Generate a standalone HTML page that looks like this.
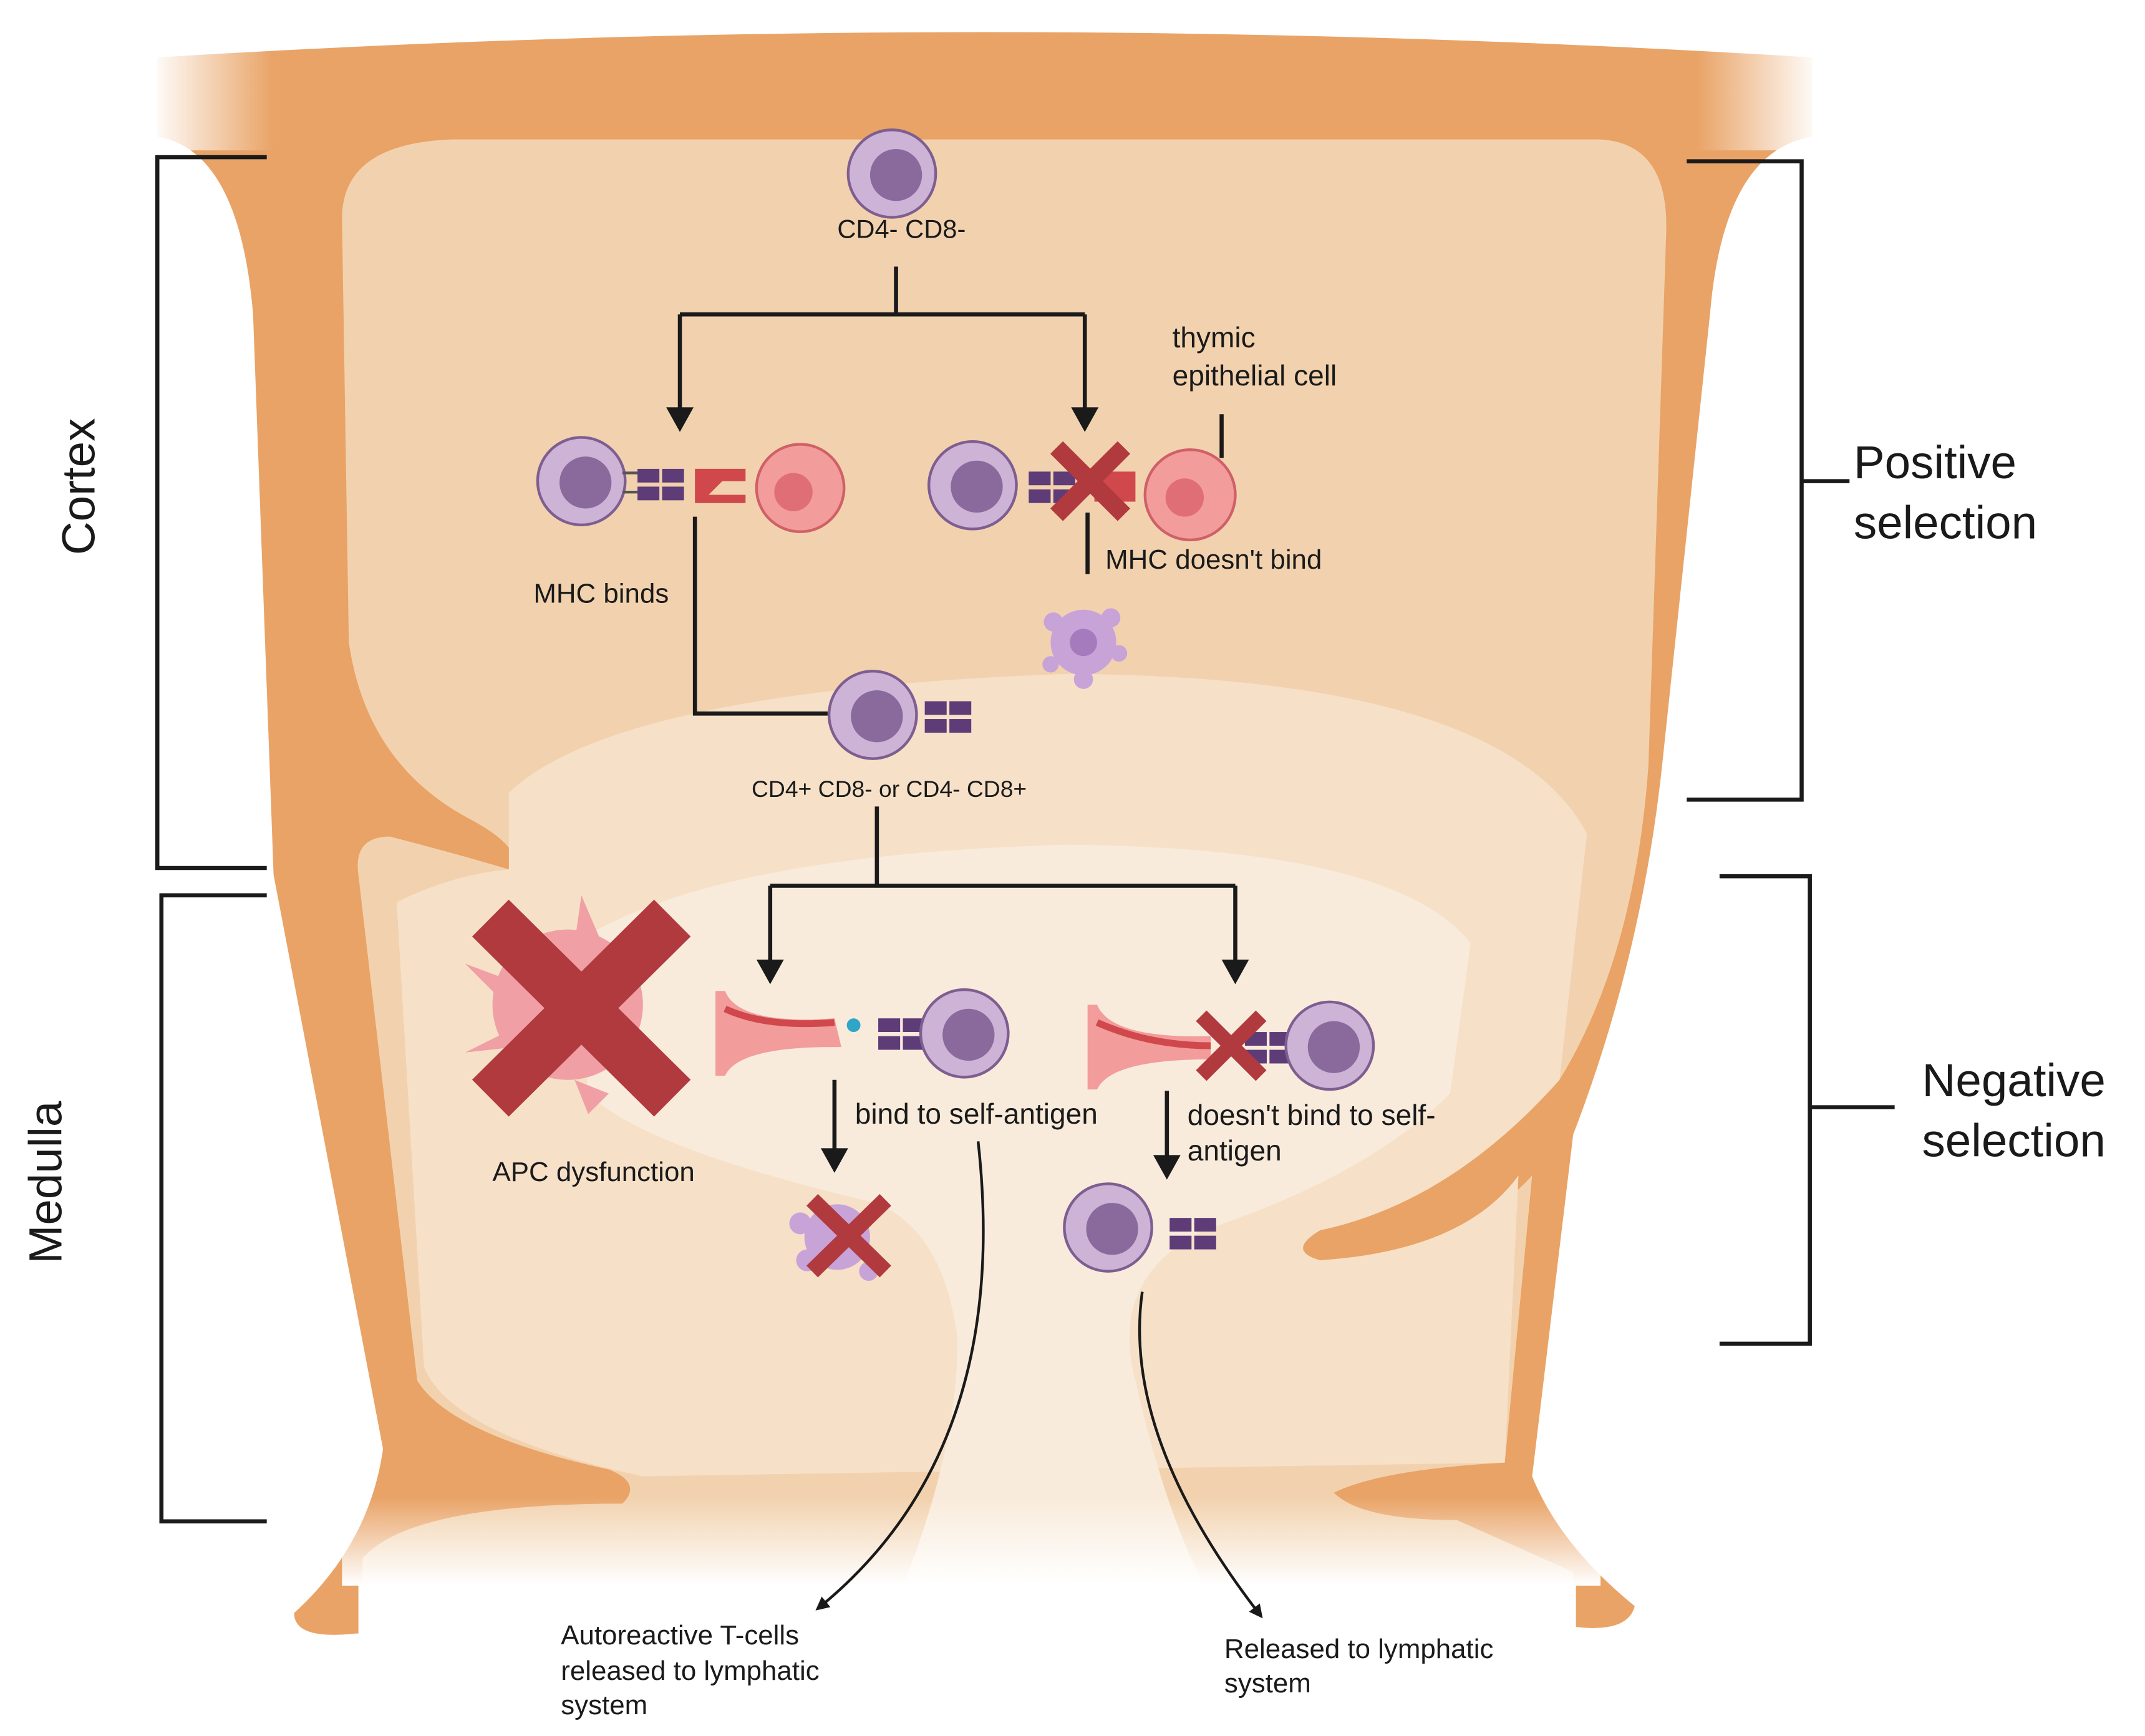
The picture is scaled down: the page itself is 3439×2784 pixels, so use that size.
<!DOCTYPE html>
<html><head><meta charset="utf-8"><style>
html,body{margin:0;padding:0;background:#fff;}
svg{display:block;}
text{font-family:"Liberation Sans",Arial,sans-serif;fill:#1a1a1a;}
</style></head><body>
<svg width="3439" height="2784" viewBox="0 0 1568 1270" preserveAspectRatio="none" xmlns="http://www.w3.org/2000/svg">
<defs>
<linearGradient id="topfadeL" x1="0" x2="1" y1="0" y2="0"><stop offset="0" stop-color="#fff"/><stop offset="1" stop-color="#fff" stop-opacity="0"/></linearGradient>
<linearGradient id="topfadeR" x1="1" x2="0" y1="0" y2="0"><stop offset="0" stop-color="#fff"/><stop offset="1" stop-color="#fff" stop-opacity="0"/></linearGradient>
<linearGradient id="botfade" x1="0" x2="0" y1="0" y2="1"><stop offset="0" stop-color="#fff" stop-opacity="0"/><stop offset="1" stop-color="#fff"/></linearGradient>
<marker id="ah" markerWidth="10" markerHeight="10" refX="5" refY="5" orient="auto" markerUnits="userSpaceOnUse"><path d="M0,0 L10,5 L0,10 Z" fill="#1a1a1a"/></marker>
<g id="tcell"><circle r="32" fill="#CDB3D5" stroke="#7E5E90" stroke-width="2"/><circle cx="3" cy="1" r="19" fill="#8A6A9C"/></g>
<g id="rec"><rect x="0" y="-12" width="16" height="10" fill="#5E3C78"/><rect x="18" y="-12" width="16" height="10" fill="#5E3C78"/><rect x="0" y="1" width="16" height="10" fill="#5E3C78"/><rect x="18" y="1" width="16" height="10" fill="#5E3C78"/></g>
</defs>
<!-- orange base -->
<path d="M115,42 Q720,5 1325,42 L1325,100 Q1260,110 1250,230 L1215,560 Q1200,700 1150,830 L1120,1080 Q1140,1130 1195,1175 Q1190,1195 1150,1190 L260,1195 Q215,1200 215,1180 Q270,1130 280,1060 L200,640 L185,230 Q175,110 115,100 Z" fill="#E9A366"/>
<rect x="110" y="30" width="90" height="80" fill="url(#topfadeL)"/>
<rect x="1240" y="30" width="90" height="80" fill="url(#topfadeR)"/>
<!-- cortex -->
<path d="M250,160 Q250,105 330,102 L1170,102 Q1220,105 1218,170 L1205,560 Q1195,700 1140,790 Q1060,880 965,900 Q940,915 965,922 Q1070,915 1120,860 L1100,1070 Q1010,1075 975,1092 Q995,1112 1065,1112 L1150,1150 L1150,1200 L265,1200 L265,1140 Q300,1100 455,1100 Q470,1085 445,1075 Q330,1050 305,1010 L262,640 Q258,612 285,612 Q335,625 372,636 Q385,622 345,600 Q268,560 255,470 Z" fill="#F2D2AE"/>
<!-- medulla -->
<path d="M372,580 Q450,505 780,493 Q1100,495 1160,610 L1140,790 Q1060,880 965,900 Q940,915 965,922 Q1070,915 1110,860 L1100,1070 L470,1080 Q330,1050 310,1000 L290,660 Q330,640 372,636 Z" fill="#F6E1C8"/>
<path d="M420,690 Q520,625 780,618 Q1020,620 1075,690 L1060,800 Q1000,860 880,900 Q810,935 830,1010 Q850,1100 880,1160 L660,1160 Q700,1060 700,980 Q690,900 640,880 Q470,840 430,800 Z" fill="#F9EBDB"/>
<rect x="250" y="1095" width="920" height="65" fill="url(#botfade)"/>
<rect x="262" y="1159" width="890" height="120" fill="#fff"/>
<!-- brackets -->
<g stroke="#1a1a1a" stroke-width="3" fill="none">
<path d="M195,115 H115 V635 H195"/>
<path d="M195,655 H118 V1113 H195"/>
<path d="M1233,118 H1317 V585 H1233 M1317,352 H1352"/>
<path d="M1257,641 H1323 V983 H1257 M1323,810 H1385"/>
</g>
<text x="0" y="0" font-size="34" transform="translate(69,356) rotate(-90)" text-anchor="middle">Cortex</text>
<text x="0" y="0" font-size="34" transform="translate(45,865) rotate(-90)" text-anchor="middle">Medulla</text>
<text x="1355" y="350" font-size="34">Positive</text>
<text x="1355" y="394" font-size="34">selection</text>
<text x="1405" y="802" font-size="34">Negative</text>
<text x="1405" y="846" font-size="34">selection</text>
<!-- flow lines -->
<g stroke="#1a1a1a" stroke-width="3" fill="none">
<path d="M655,195 V230 M497,230 H793 M497,230 V305 M793,230 V305" />
<path d="M893,303 V335 M795,375 V420"/>
<path d="M508,378 V522 H605"/>
<path d="M641,590 V648 M563,648 H903 M563,648 V708 M903,648 V708"/>
<path d="M610,790 V845 M853,798 V850"/>
</g>
<g fill="#1a1a1a">
<path d="M487,298 L507,298 L497,316 Z"/><path d="M783,298 L803,298 L793,316 Z"/>
<path d="M553,702 L573,702 L563,720 Z"/><path d="M893,702 L913,702 L903,720 Z"/>
<path d="M600,840 L620,840 L610,858 Z"/><path d="M843,845 L863,845 L853,863 Z"/>
</g>
<path d="M715,835 Q740,1060 600,1175" stroke="#1a1a1a" stroke-width="2" fill="none" marker-end="url(#ah)"/>
<path d="M835,945 Q820,1050 920,1180" stroke="#1a1a1a" stroke-width="2" fill="none" marker-end="url(#ah)"/>
<!-- top cell -->
<use href="#tcell" x="652" y="127"/>
<text x="659" y="174" font-size="19" text-anchor="middle">CD4- CD8-</text>
<!-- row 2 left -->
<use href="#tcell" x="425" y="352"/>
<line x1="455" y1="346" x2="466" y2="346" stroke="#555" stroke-width="2"/><line x1="455" y1="360" x2="466" y2="360" stroke="#555" stroke-width="2"/>
<use href="#rec" x="466" y="355"/>
<path d="M508,343 L545,343 L545,352 L528,352 L518,362 L545,362 L545,368 L508,368 Z" fill="#D0484C"/>
<circle cx="585" cy="357" r="32" fill="#F29C9C" stroke="#D06068" stroke-width="2"/><circle cx="580" cy="360" r="14" fill="#E06E76"/>
<text x="390" y="441" font-size="20">MHC binds</text>
<!-- row 2 right -->
<use href="#tcell" x="711" y="355"/>
<use href="#rec" x="752" y="357"/>
<rect x="800" y="345" width="30" height="22" fill="#D0484C"/>
<circle cx="870" cy="362" r="33" fill="#F29C9C" stroke="#D06068" stroke-width="2"/><circle cx="866" cy="364" r="14" fill="#E06E76"/>
<path d="M777,332 L817,372 M817,332 L777,372" stroke="#B03A3E" stroke-width="13" stroke-linecap="square"/>
<text x="857" y="254" font-size="21">thymic</text>
<text x="857" y="282" font-size="21">epithelial cell</text>
<text x="808" y="416" font-size="20">MHC doesn't bind</text>
<!-- dying cell -->
<g fill="#C8A3D8"><circle cx="792" cy="470" r="24"/><circle cx="770" cy="455" r="7"/><circle cx="812" cy="452" r="7"/><circle cx="818" cy="478" r="6"/><circle cx="768" cy="486" r="6"/><circle cx="792" cy="497" r="7"/></g><circle cx="792" cy="470" r="10" fill="#A57BBE"/>
<!-- CD4+ cell -->
<use href="#tcell" x="638" y="523"/>
<use href="#rec" x="676" y="525"/>
<text x="650" y="583" font-size="17" text-anchor="middle">CD4+ CD8- or CD4- CD8+</text>
<!-- APC with X -->
<g fill="#F0A0A4"><circle cx="415" cy="735" r="55"/><path d="M340,705 L380,720 L370,735 Z M340,770 L380,750 L385,765 Z M425,655 L440,690 L420,690 Z M445,800 L430,815 L420,790 Z"/></g>
<path d="M372,685 L478,790 M478,685 L372,790" stroke="#B03A3E" stroke-width="38" stroke-linecap="square"/>
<text x="360" y="864" font-size="20">APC dysfunction</text>
<!-- negative left -->
<path d="M523,725 L530,725 Q540,750 610,745 L615,766 Q540,765 530,787 L523,787 Z" fill="#F29C9C"/>
<path d="M530,738 Q560,752 610,748" stroke="#D0484C" stroke-width="5" fill="none"/>
<circle cx="624" cy="750" r="5" fill="#2FA6C8"/>
<use href="#rec" x="642" y="757"/>
<use href="#tcell" x="705" y="756"/>
<text x="625" y="822" font-size="21">bind to self-antigen</text>
<g fill="#C8A3D8"><circle cx="612" cy="905" r="24"/><circle cx="585" cy="895" r="8"/><circle cx="590" cy="922" r="8"/><circle cx="635" cy="930" r="7"/></g>
<path d="M598,882 L643,926 M643,882 L598,926" stroke="#B03A3E" stroke-width="12" stroke-linecap="square"/>
<!-- negative right -->
<path d="M795,735 L802,735 Q812,760 885,758 L885,775 Q812,775 802,797 L795,797 Z" fill="#F29C9C"/>
<path d="M802,748 Q840,765 885,765" stroke="#D0484C" stroke-width="5" fill="none"/>
<use href="#rec" x="910" y="767"/>
<use href="#tcell" x="972" y="765"/>
<path d="M882,747 L918,783 M918,747 L882,783" stroke="#B03A3E" stroke-width="11" stroke-linecap="square"/>
<text x="868" y="823" font-size="21">doesn't bind to self-</text>
<text x="868" y="849" font-size="21">antigen</text>
<use href="#tcell" x="810" y="898"/>
<use href="#rec" x="855" y="903"/>
<!-- bottom labels -->
<text x="410" y="1203" font-size="20">Autoreactive T-cells</text>
<text x="410" y="1229" font-size="20">released to lymphatic</text>
<text x="410" y="1254" font-size="20">system</text>
<text x="895" y="1213" font-size="20">Released to lymphatic</text>
<text x="895" y="1238" font-size="20">system</text>
</svg>
</body></html>
